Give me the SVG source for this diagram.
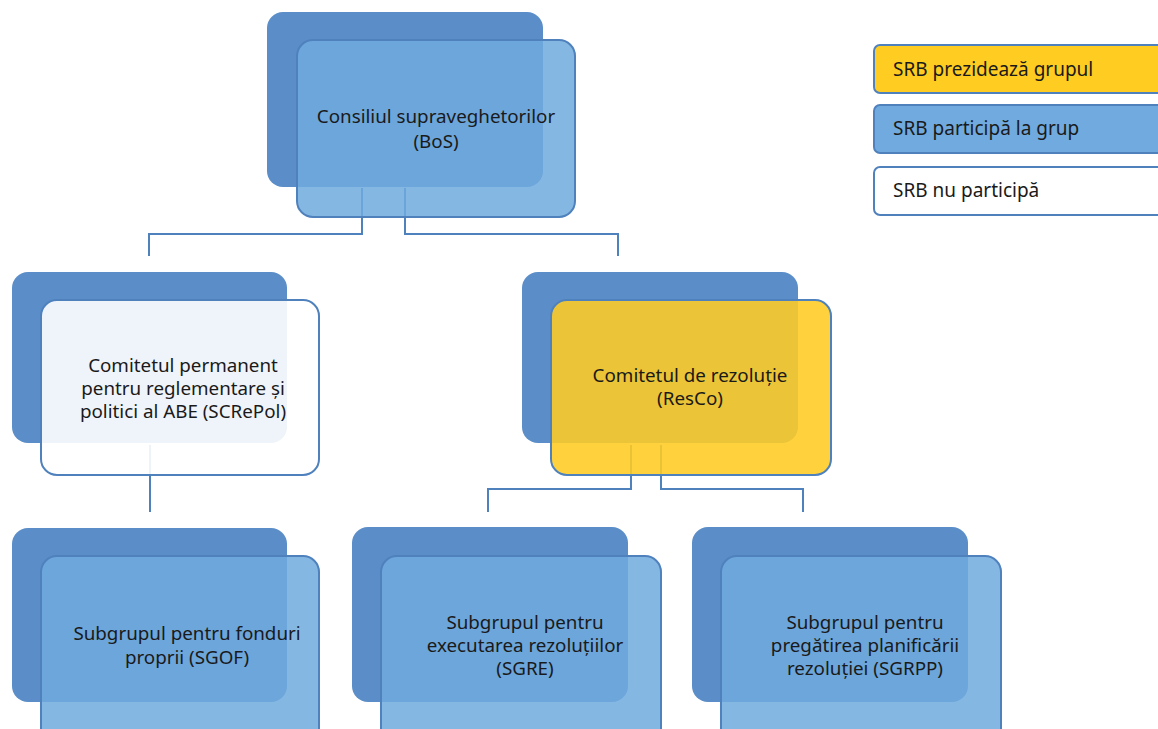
<svg xmlns="http://www.w3.org/2000/svg" width="1158" height="729" viewBox="0 0 1158 729">
<style>
.back{fill:#5b8ec8;}
.front{stroke:#4f81bd;stroke-width:2;}
.blue{fill:#70aade;fill-opacity:0.85;}
.white{fill:#ffffff;fill-opacity:0.9;}
.yellow{fill:#ffcc22;fill-opacity:0.88;}
.conn{fill:none;stroke:#4f81bd;stroke-width:2;}
text{font-family:"Noto Sans","Open Sans","DejaVu Sans",sans-serif;font-size:18.8px;fill:#1a1a1a;text-anchor:middle;}
.leg{text-anchor:start;font-size:19px;}
</style>
<rect width="1158" height="729" fill="#ffffff"/>
<g id="connectors">
<path class="conn" d="M362,188 V234 H149 V256"/>
<path class="conn" d="M405,188 V234 H618 V256"/>
<path class="conn" d="M150,445 V512"/>
<path class="conn" d="M631,445 V489 H488 V512"/>
<path class="conn" d="M661,445 V489 H803 V512"/>
</g>
<g id="bos">
<rect class="back" x="267" y="12" width="276" height="175" rx="16"/>
<rect class="front blue" x="297" y="40" width="278" height="177" rx="16"/>
<text x="436" y="123">Consiliul supraveghetorilor</text>
<text x="436" y="148">(BoS)</text>
</g>
<g id="screpol">
<rect class="back" x="12" y="272" width="275" height="171" rx="16"/>
<rect class="front white" x="41" y="300" width="278" height="175" rx="16"/>
<text x="183" y="372">Comitetul permanent</text>
<text x="183" y="395">pentru reglementare și</text>
<text x="183" y="418">politici al ABE (SCRePol)</text>
</g>
<g id="resco">
<rect class="back" x="522" y="272" width="276" height="171" rx="16"/>
<rect class="front yellow" x="551" y="300" width="280" height="175" rx="16"/>
<text x="690" y="382">Comitetul de rezoluție</text>
<text x="690" y="405">(ResCo)</text>
</g>
<g id="sgof">
<rect class="back" x="12" y="528" width="275" height="174" rx="16"/>
<rect class="front blue" x="41" y="556" width="278" height="190" rx="16"/>
<text x="187" y="640">Subgrupul pentru fonduri</text>
<text x="187" y="664">proprii (SGOF)</text>
</g>
<g id="sgre">
<rect class="back" x="352" y="527" width="276" height="175" rx="16"/>
<rect class="front blue" x="381" y="556" width="280" height="190" rx="16"/>
<text x="525" y="629">Subgrupul pentru</text>
<text x="525" y="652">executarea rezoluțiilor</text>
<text x="525" y="675">(SGRE)</text>
</g>
<g id="sgrpp">
<rect class="back" x="692" y="527" width="276" height="175" rx="16"/>
<rect class="front blue" x="721" y="556" width="280" height="190" rx="16"/>
<text x="865" y="629">Subgrupul pentru</text>
<text x="865" y="652">pregătirea planificării</text>
<text x="865" y="675">rezoluției (SGRPP)</text>
</g>
<g id="legend">
<g id="leg-chair">
<rect x="874" y="45" width="300" height="48" rx="6" fill="#ffcc22" stroke="#4f81bd" stroke-width="2"/>
<text class="leg" x="893" y="76">SRB prezidează grupul</text>
</g>
<g id="leg-part">
<rect x="874" y="105" width="300" height="48" rx="6" fill="#70aade" stroke="#4f81bd" stroke-width="2"/>
<text class="leg" x="893" y="135">SRB participă la grup</text>
</g>
<g id="leg-none">
<rect x="874" y="167" width="300" height="48" rx="6" fill="#ffffff" stroke="#4f81bd" stroke-width="2"/>
<text class="leg" x="893" y="197">SRB nu participă</text>
</g>
</g>
</svg>
